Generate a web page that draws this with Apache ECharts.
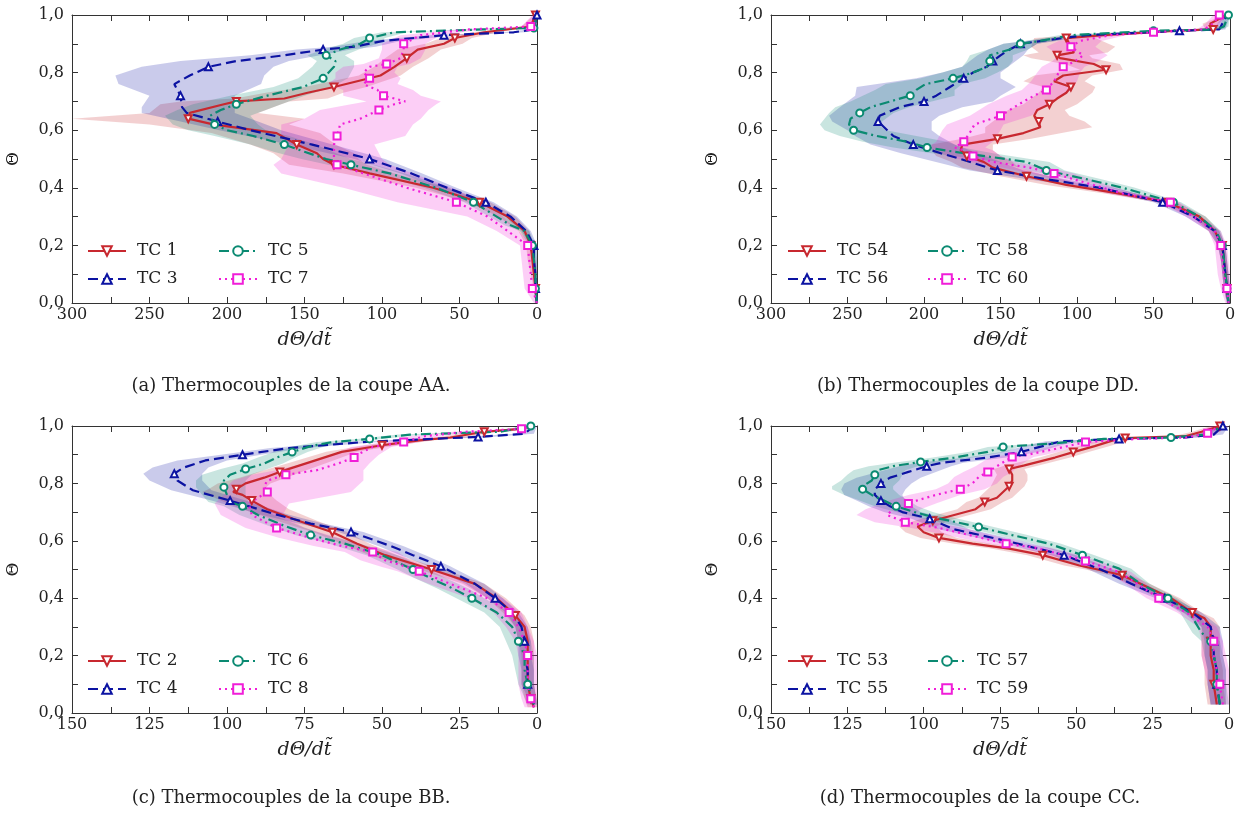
<!DOCTYPE html>
<html><head><meta charset="utf-8">
<script src="https://cdn.jsdelivr.net/npm/echarts@6/dist/echarts.min.js"></script>
<style>html,body{margin:0;padding:0;background:#fff}#c{width:1249px;height:816px}</style>
</head><body><div id="c"></div>
<script>
// Each row: [dTheta/dt, Theta, band min, band max]
const tc1 = [[0,0,0,1],[1,0.05,0,2],[2,0.1,0,4],[3,0.15,1,6],[4,0.2,2,7],[8,0.25,5,12],[19,0.3,14,25],[37,0.35,30,45],[67,0.4,58,78],[108,0.45,92,125],[131,0.48,110,160],[138,0.5,115,165],[142,0.52,118,170],[155,0.55,130,185],[168,0.59,140,210],[209,0.62,160,250],[225,0.64,150,300],[224,0.66,180,250],[202,0.69,165,243],[194,0.7,160,230],[163,0.71,135,195],[148,0.73,125,175],[131,0.75,110,150],[101,0.79,88,115],[92,0.82,80,105],[84,0.85,70,98],[77,0.88,62,90],[60,0.9,48,72],[53,0.92,42,62],[34,0.94,25,42],[4,0.96,1,10],[1,1,0,2]];
const tc3 = [[0,0,0,1],[1,0.05,0,2],[1,0.1,0,2],[2,0.15,0,3],[2,0.2,0,4],[7,0.25,4,10],[17,0.3,13,21],[33,0.35,28,38],[58,0.4,52,64],[81,0.45,74,88],[108,0.5,98,118],[145,0.55,132,160],[185,0.6,165,205],[206,0.63,180,230],[226,0.66,195,255],[229,0.68,195,255],[230,0.72,195,250],[234,0.76,178,270],[224,0.79,176,272],[212,0.82,170,255],[194,0.84,160,230],[163,0.86,140,185],[138,0.88,120,155],[118,0.89,104,132],[99,0.91,88,110],[60,0.93,50,70],[15,0.94,8,22],[2,0.95,0,5],[0,1,0,1]];
const tc5 = [[0,0,0,1],[1,0.05,0,2],[1,0.1,0,2],[2,0.15,0,3],[3,0.2,1,5],[8,0.25,5,11],[17,0.27,13,21],[41,0.35,35,47],[65,0.4,57,73],[95,0.45,85,105],[120,0.48,105,135],[136,0.5,120,152],[150,0.525,132,170],[163,0.55,143,185],[183,0.58,160,208],[200,0.6,175,225],[208,0.62,180,235],[211,0.65,185,240],[204,0.67,175,232],[194,0.69,165,222],[174,0.72,150,198],[151,0.75,132,170],[138,0.78,122,154],[131,0.82,118,145],[130,0.84,118,142],[136,0.86,124,148],[127,0.88,115,138],[114,0.9,103,125],[108,0.92,98,118],[92,0.94,84,100],[34,0.95,28,40],[2,0.955,0,4],[0,1,0,1]];
const tc7 = [[0,0,0,2],[3,0.05,0,8],[4,0.1,0,9],[5,0.15,1,10],[6,0.2,2,11],[19,0.25,12,26],[32,0.3,22,45],[52,0.35,35,90],[84,0.4,55,125],[112,0.45,80,165],[129,0.48,95,170],[131,0.5,100,165],[131,0.55,105,160],[129,0.58,85,165],[127,0.62,80,165],[114,0.64,75,150],[102,0.67,70,140],[92,0.69,65,120],[85,0.7,62,110],[99,0.72,75,125],[103,0.74,80,125],[112,0.76,90,135],[108,0.78,88,130],[112,0.8,92,130],[108,0.82,90,125],[97,0.83,82,112],[88,0.85,75,102],[86,0.88,72,100],[86,0.9,72,100],[75,0.93,62,88],[44,0.95,35,52],[4,0.96,0,10],[1,1,0,3]];

const tc54 = [[1,0,0,2],[2,0.05,0,4],[3,0.1,1,5],[4,0.15,2,6],[5,0.2,3,8],[10,0.25,7,14],[20,0.3,16,25],[41,0.35,35,48],[72,0.38,62,82],[107,0.41,95,120],[133,0.44,118,150],[155,0.47,138,175],[161,0.49,142,182],[172,0.51,150,192],[176,0.53,155,195],[175,0.55,155,195],[152,0.57,130,175],[135,0.59,110,160],[124,0.61,90,160],[125,0.63,95,155],[128,0.65,105,150],[126,0.67,108,145],[118,0.69,100,135],[113,0.71,95,130],[107,0.73,90,125],[104,0.75,88,122],[115,0.77,95,135],[109,0.79,90,128],[81,0.81,70,98],[89,0.83,72,108],[111,0.85,90,130],[113,0.86,92,135],[102,0.87,80,125],[104,0.89,75,130],[107,0.92,88,128],[83,0.93,70,98],[37,0.945,28,46],[11,0.95,6,16],[13,0.97,8,18],[2,1,0,4]];
const tc56 = [[1,0,0,2],[2,0.05,0,4],[3,0.1,1,5],[4,0.15,2,6],[5,0.2,3,8],[10,0.25,7,14],[24,0.3,19,29],[44,0.35,38,50],[85,0.4,76,94],[120,0.43,108,132],[152,0.46,135,170],[176,0.5,155,200],[189,0.52,165,215],[207,0.55,180,235],[220,0.58,190,245],[224,0.6,195,250],[230,0.63,195,260],[229,0.65,190,262],[216,0.68,175,255],[200,0.7,155,250],[192,0.72,150,245],[183,0.75,140,244],[174,0.78,150,205],[168,0.8,150,188],[159,0.82,145,175],[155,0.84,140,170],[150,0.86,135,165],[144,0.88,132,158],[137,0.9,126,148],[109,0.92,100,118],[94,0.93,86,102],[33,0.945,26,40],[7,0.95,3,11],[2,1,0,4]];
const tc58 = [[1,0,0,2],[2,0.05,0,4],[3,0.1,1,5],[4,0.15,2,6],[5,0.2,3,8],[9,0.25,6,12],[20,0.3,16,24],[37,0.35,32,43],[70,0.4,62,78],[94,0.43,84,104],[120,0.46,108,132],[133,0.49,118,150],[174,0.52,155,195],[198,0.54,175,220],[211,0.56,185,240],[231,0.58,205,255],[246,0.6,225,265],[249,0.62,230,268],[248,0.64,225,265],[242,0.66,220,262],[235,0.68,210,258],[222,0.7,195,248],[209,0.72,180,240],[205,0.74,180,232],[199,0.76,175,225],[181,0.78,160,202],[168,0.8,152,188],[159,0.82,145,175],[157,0.84,142,172],[157,0.86,142,170],[144,0.88,132,158],[137,0.9,126,148],[124,0.91,115,134],[104,0.93,96,112],[50,0.945,42,58],[9,0.95,5,13],[4,0.96,1,7],[1,1,0,3]];
const tc60 = [[1,0,0,3],[2,0.05,0,6],[4,0.1,0,8],[5,0.15,1,9],[6,0.2,2,10],[10,0.25,6,14],[24,0.3,19,29],[39,0.35,33,46],[70,0.38,62,80],[96,0.42,86,108],[115,0.45,102,130],[131,0.47,118,148],[155,0.49,140,170],[168,0.51,150,185],[174,0.53,155,192],[180,0.54,160,198],[174,0.56,155,192],[169,0.6,150,188],[167,0.62,148,185],[150,0.65,130,170],[138,0.69,118,158],[128,0.72,110,146],[120,0.74,104,136],[115,0.77,100,130],[112,0.8,98,126],[109,0.82,95,123],[101,0.84,86,116],[96,0.86,80,112],[104,0.89,88,120],[98,0.91,84,112],[78,0.93,68,88],[50,0.94,42,58],[17,0.95,12,22],[11,0.97,6,16],[7,1,3,11]];

const tc2 = [[1,0.02,0,3],[2,0.05,0,4],[3,0.1,1,5],[3,0.15,1,5],[3,0.2,1,5],[3,0.25,1,6],[4,0.3,2,7],[7,0.34,4,10],[13,0.4,10,16],[20,0.45,17,24],[34,0.5,30,38],[49,0.55,45,54],[58,0.59,54,63],[66,0.63,61,72],[77,0.67,71,84],[87,0.71,80,95],[92,0.74,84,102],[95,0.76,86,106],[98,0.77,88,108],[97,0.78,88,106],[94,0.8,86,103],[88,0.82,81,96],[83,0.84,76,90],[73,0.875,67,79],[63,0.91,58,68],[50,0.933,45,55],[38,0.95,33,43],[28,0.96,23,33],[17,0.98,13,21],[5,0.99,2,8],[2,1,0,4]];
const tc4 = [[1,0.03,0,2],[3,0.1,1,5],[3,0.15,1,5],[4,0.2,2,6],[4,0.25,2,6],[5,0.3,3,7],[8,0.35,6,10],[13.5,0.4,11,16],[20,0.45,17,23],[29,0.5,26,33],[31,0.511,28,35],[40,0.55,36,44],[47,0.581,43,51],[60,0.631,56,64],[73,0.66,69,77],[84,0.691,80,89],[99,0.74,94,105],[111,0.776,105,118],[116,0.81,108,125],[117,0.834,108,127],[114,0.855,106,124],[107,0.88,100,116],[95,0.9,89,102],[80,0.923,75,86],[55,0.945,50,60],[19,0.962,15,24],[4,0.973,1,7],[1,1,0,2]];
const tc6 = [[1,0.03,0,3],[3,0.1,1,6],[4,0.15,1,7],[4,0.2,1,8],[6,0.25,2,10],[8,0.3,4,12],[13,0.35,9,17],[21,0.4,17,26],[27,0.433,22,32],[34,0.468,29,39],[40,0.5,35,45],[50,0.55,45,55],[62,0.59,57,67],[73,0.62,68,78],[81,0.65,76,86],[90,0.69,85,96],[95,0.72,89,101],[99,0.735,93,106],[100,0.76,94,108],[101,0.787,94,110],[101,0.81,94,110],[99,0.83,92,108],[94,0.85,87,102],[88,0.869,82,95],[84,0.89,78,90],[79,0.909,74,85],[73,0.93,68,78],[66,0.944,61,71],[54,0.955,50,58],[41,0.97,37,45],[12,0.98,9,15],[2,1,0,4]];
const tc8 = [[1,0.02,0,4],[2,0.05,0,5],[3,0.1,0,6],[3,0.15,0,6],[3,0.2,0,6],[4,0.25,1,7],[6,0.3,3,10],[9,0.35,5,14],[16,0.4,11,22],[28,0.45,22,35],[38,0.494,31,45],[42,0.509,35,50],[49,0.532,41,57],[53,0.561,45,62],[63,0.582,55,72],[73,0.61,64,83],[84,0.645,75,94],[92,0.69,82,102],[93,0.73,80,104],[87,0.77,60,100],[88,0.79,58,100],[87,0.81,56,98],[81,0.83,56,92],[71,0.846,56,84],[64,0.87,54,75],[59,0.89,52,68],[58,0.9,51,66],[53,0.927,47,60],[43,0.944,38,49],[36,0.965,31,41],[23,0.98,19,27],[5,0.99,2,9],[2,1,0,4]];

const tc53 = [[4,0.03,1,7],[5,0.1,2,8],[5,0.15,2,8],[6,0.2,3,9],[6,0.25,3,9],[6,0.3,3,9],[8,0.33,5,11],[12,0.35,9,15],[19,0.4,16,22],[29,0.45,26,33],[35,0.48,32,39],[43,0.5,39,47],[49,0.514,45,54],[61,0.55,56,66],[72,0.573,67,78],[84,0.59,78,90],[95,0.61,89,101],[100,0.63,94,106],[102,0.65,96,108],[97,0.67,92,103],[90,0.69,85,96],[83,0.71,78,89],[80,0.735,74,86],[76,0.75,71,82],[74,0.77,69,80],[72,0.79,67,78],[71,0.81,66,77],[71,0.83,66,76],[72,0.85,67,77],[67,0.863,62,73],[57,0.89,52,62],[51,0.909,46,56],[44,0.93,39,49],[38,0.95,33,43],[34,0.958,29,39],[14,0.965,10,18],[9,0.98,6,12],[3,1,0,6]];
const tc55 = [[3,0.03,1,6],[4,0.1,1,7],[4,0.15,1,7],[5,0.2,2,8],[5,0.25,2,8],[6,0.3,3,9],[12,0.35,9,15],[21,0.4,18,24],[32,0.45,28,36],[42,0.5,38,46],[54,0.55,50,58],[73,0.6,68,78],[90,0.64,85,95],[98,0.677,92,104],[107,0.7,101,113],[111,0.72,104,118],[114,0.74,106,122],[116,0.76,107,126],[116,0.779,106,127],[114,0.8,104,126],[111,0.82,101,122],[105,0.84,96,115],[99,0.86,91,108],[94,0.872,87,102],[79,0.89,73,86],[68,0.91,62,74],[61,0.93,56,67],[55,0.947,50,60],[36,0.955,31,41],[14,0.96,10,18],[5,0.97,2,8],[2,1,0,4]];
const tc57 = [[3,0.03,0,6],[4,0.1,1,7],[4,0.15,1,7],[5,0.2,2,8],[6,0.25,3,9],[9,0.28,6,12],[13,0.35,10,16],[20,0.4,17,23],[29,0.45,26,33],[36,0.503,32,40],[48,0.55,44,52],[59,0.59,55,64],[71,0.62,66,76],[82,0.648,77,87],[96,0.68,90,102],[103,0.7,97,109],[109,0.72,102,116],[113,0.74,105,121],[117,0.76,108,126],[120,0.78,110,130],[120,0.79,110,130],[117,0.81,108,127],[116,0.83,107,125],[115,0.846,106,123],[110,0.86,102,118],[101,0.875,94,108],[90,0.89,84,97],[79,0.91,73,85],[74,0.927,69,79],[57,0.94,52,62],[41,0.955,37,45],[19,0.96,15,23],[8,0.97,5,11],[2,1,0,4]];
const tc59 = [[2,0.03,0,6],[3,0.1,0,7],[4,0.15,0,8],[5,0.2,1,9],[5,0.25,2,9],[7,0.3,4,10],[14,0.35,11,17],[23,0.4,20,27],[30,0.45,27,34],[36,0.491,32,40],[47,0.53,43,51],[54,0.55,49,59],[63,0.575,58,68],[73,0.59,67,79],[81,0.61,74,88],[95,0.645,87,104],[106,0.665,97,116],[112,0.69,103,122],[110,0.71,101,119],[105,0.73,96,114],[102,0.741,93,111],[96,0.76,88,105],[88,0.78,80,96],[84,0.8,76,92],[82,0.822,74,90],[79,0.84,71,87],[76,0.86,69,83],[73,0.88,66,80],[71,0.892,64,78],[66,0.9,60,72],[57,0.92,52,62],[47,0.944,42,52],[30,0.955,26,34],[14,0.96,10,18],[7,0.975,4,10],[3,1,0,6]];

const xTicksWide = [300, 250, 200, 150, 100, 50, 0];
const xTicksNarrow = [150, 125, 100, 75, 50, 25, 0];
const yTicks = [0, 0.2, 0.4, 0.6, 0.8, 1.0];

const namesA = ['TC 1', 'TC 3', 'TC 5', 'TC 7'];
const namesB = ['TC 54', 'TC 56', 'TC 58', 'TC 60'];
const namesC = ['TC 2', 'TC 4', 'TC 6', 'TC 8'];
const namesD = ['TC 53', 'TC 55', 'TC 57', 'TC 59'];
const captions = ['(a) Thermocouples de la coupe AA.', '(b) Thermocouples de la coupe DD.',
                  '(c) Thermocouples de la coupe BB.', '(d) Thermocouples de la coupe CC.'];

const FONT = 'DejaVu Serif';
const STY = [
  {color: '#c8282f', rgba: 'rgba(200,40,47,0.22)', type: 'solid', symbol: 'emptyTriangle', rot: 180},
  {color: '#0c13a2', rgba: 'rgba(12,19,162,0.22)', type: [10, 5], symbol: 'emptyTriangle', rot: 0},
  {color: '#0b8a72', rgba: 'rgba(11,138,114,0.22)', type: [10, 4, 2, 4], symbol: 'emptyCircle', rot: 0},
  {color: '#f01ed8', rgba: 'rgba(240,30,216,0.22)', type: [2, 4], symbol: 'emptyRect', rot: 0}
];

const panels = [
  {grid: {left: 72, top: 15, width: 465, height: 288}, ticks: xTicksWide, names: namesA, data: [tc1, tc3, tc5, tc7], cap: captions[0], capX: 291, capY: 377, legX: [87, 218], legY: 241},
  {grid: {left: 771, top: 15, width: 459, height: 288}, ticks: xTicksWide, names: namesB, data: [tc54, tc56, tc58, tc60], cap: captions[1], capX: 978, capY: 377, legX: [787, 927], legY: 241},
  {grid: {left: 72, top: 426, width: 465, height: 287}, ticks: xTicksNarrow, names: namesC, data: [tc2, tc4, tc6, tc8], cap: captions[2], capX: 291, capY: 789, legX: [87, 218], legY: 651},
  {grid: {left: 771, top: 426, width: 458, height: 287}, ticks: xTicksNarrow, names: namesD, data: [tc53, tc55, tc57, tc59], cap: captions[3], capX: 980, capY: 789, legX: [787, 927], legY: 651}
];

const option = {animation: false, backgroundColor: '#fff', grid: [], xAxis: [], yAxis: [], series: [], legend: [], title: []};
const axisLine = {show: true, onZero: false, lineStyle: {color: '#333', width: 1}};
const tickStyle = {show: true, inside: true, length: 6, lineStyle: {color: '#333'}};
const minorStyle = {show: true, splitNumber: 2, length: 6, lineStyle: {color: '#333'}};
const lblStyle = {color: '#222', fontFamily: FONT, fontSize: 16};

panels.forEach((p, k) => {
  option.grid.push(p.grid);
  const xmax = Math.max(...p.ticks), xint = p.ticks[0] - p.ticks[1];
  const ymax = Math.max(...yTicks), yint = yTicks[1] - yTicks[0];
  option.xAxis.push({gridIndex: k, type: 'value', inverse: true, min: 0, max: xmax, interval: xint, position: 'bottom',
    axisLine, axisTick: tickStyle, minorTick: minorStyle, splitLine: {show: false},
    axisLabel: Object.assign({margin: 4}, lblStyle),
    name: 'dΘ/dt\u0303', nameLocation: 'middle', nameGap: 28,
    nameTextStyle: {fontFamily: FONT, fontStyle: 'italic', fontSize: 19, color: '#222'}});
  option.xAxis.push({gridIndex: k, type: 'value', inverse: true, min: 0, max: xmax, interval: xint, position: 'top',
    axisLine, axisTick: tickStyle, minorTick: minorStyle, splitLine: {show: false}, axisLabel: {show: false}});
  option.yAxis.push({gridIndex: k, type: 'value', min: 0, max: ymax, interval: yint, position: 'left',
    axisLine, axisTick: tickStyle, minorTick: minorStyle, splitLine: {show: false},
    axisLabel: Object.assign({margin: 8, formatter: v => v.toFixed(1).replace('.', ',')}, lblStyle),
    name: 'Θ', nameLocation: 'middle', nameRotate: 90, nameGap: 50,
    nameTextStyle: {fontFamily: FONT, fontSize: 17, color: '#222'}});
  option.yAxis.push({gridIndex: k, type: 'value', min: 0, max: ymax, interval: yint, position: 'right',
    axisLine, axisTick: tickStyle, minorTick: minorStyle, splitLine: {show: false}, axisLabel: {show: false}});

  // bands
  p.data.forEach((arr, i) => {
    option.series.push({
      type: 'custom', xAxisIndex: 2 * k, yAxisIndex: 2 * k, silent: true, z: 1,
      data: arr.map(r => [r[0], r[1]]),
      renderItem: (params, api) => {
        if (params.dataIndex !== 0) return {type: 'group', children: []};
        const pts = [];
        arr.forEach(r => pts.push(api.coord([r[2], r[1]])));
        for (let j = arr.length - 1; j >= 0; j--) pts.push(api.coord([arr[j][3], arr[j][1]]));
        return {type: 'polygon', shape: {points: pts}, style: {fill: STY[i].rgba, stroke: null}};
      }
    });
  });
  // lines
  p.data.forEach((arr, i) => {
    const s = STY[i];
    option.series.push({
      type: 'line', name: p.names[i], xAxisIndex: 2 * k, yAxisIndex: 2 * k, z: 3,
      symbol: s.symbol, symbolSize: 7, symbolRotate: s.rot, showSymbol: true, showAllSymbol: true,
      color: s.color, lineStyle: {color: s.color, width: 2.2, type: s.type},
      itemStyle: {color: s.color, borderColor: s.color, borderWidth: 1.3},
      emphasis: {disabled: true},
      data: arr.map((r, j) => ({value: [r[0], r[1]], symbol: (j % 3 === 1) ? s.symbol : 'none'}))
    });
  });
  [0, 1].forEach(c => {
    option.legend.push({
      data: [p.names[c * 2], p.names[c * 2 + 1]], orient: 'vertical', left: p.legX[c], top: p.legY,
      padding: 0, itemWidth: 38, itemHeight: 12, itemGap: 8, selectedMode: false,
      textStyle: {fontFamily: FONT, fontSize: 17, color: '#222', lineHeight: 20, padding: [0, 0, 0, 6]}
    });
  });
  option.title.push({text: p.cap, left: p.capX, top: p.capY, textAlign: 'center', padding: 0,
    textStyle: {fontFamily: FONT, fontSize: 18, fontWeight: 'normal', color: '#222'}});
});

const chart = echarts.init(document.getElementById('c'), null, {renderer: 'canvas'});
chart.setOption(option);
</script></body></html>
